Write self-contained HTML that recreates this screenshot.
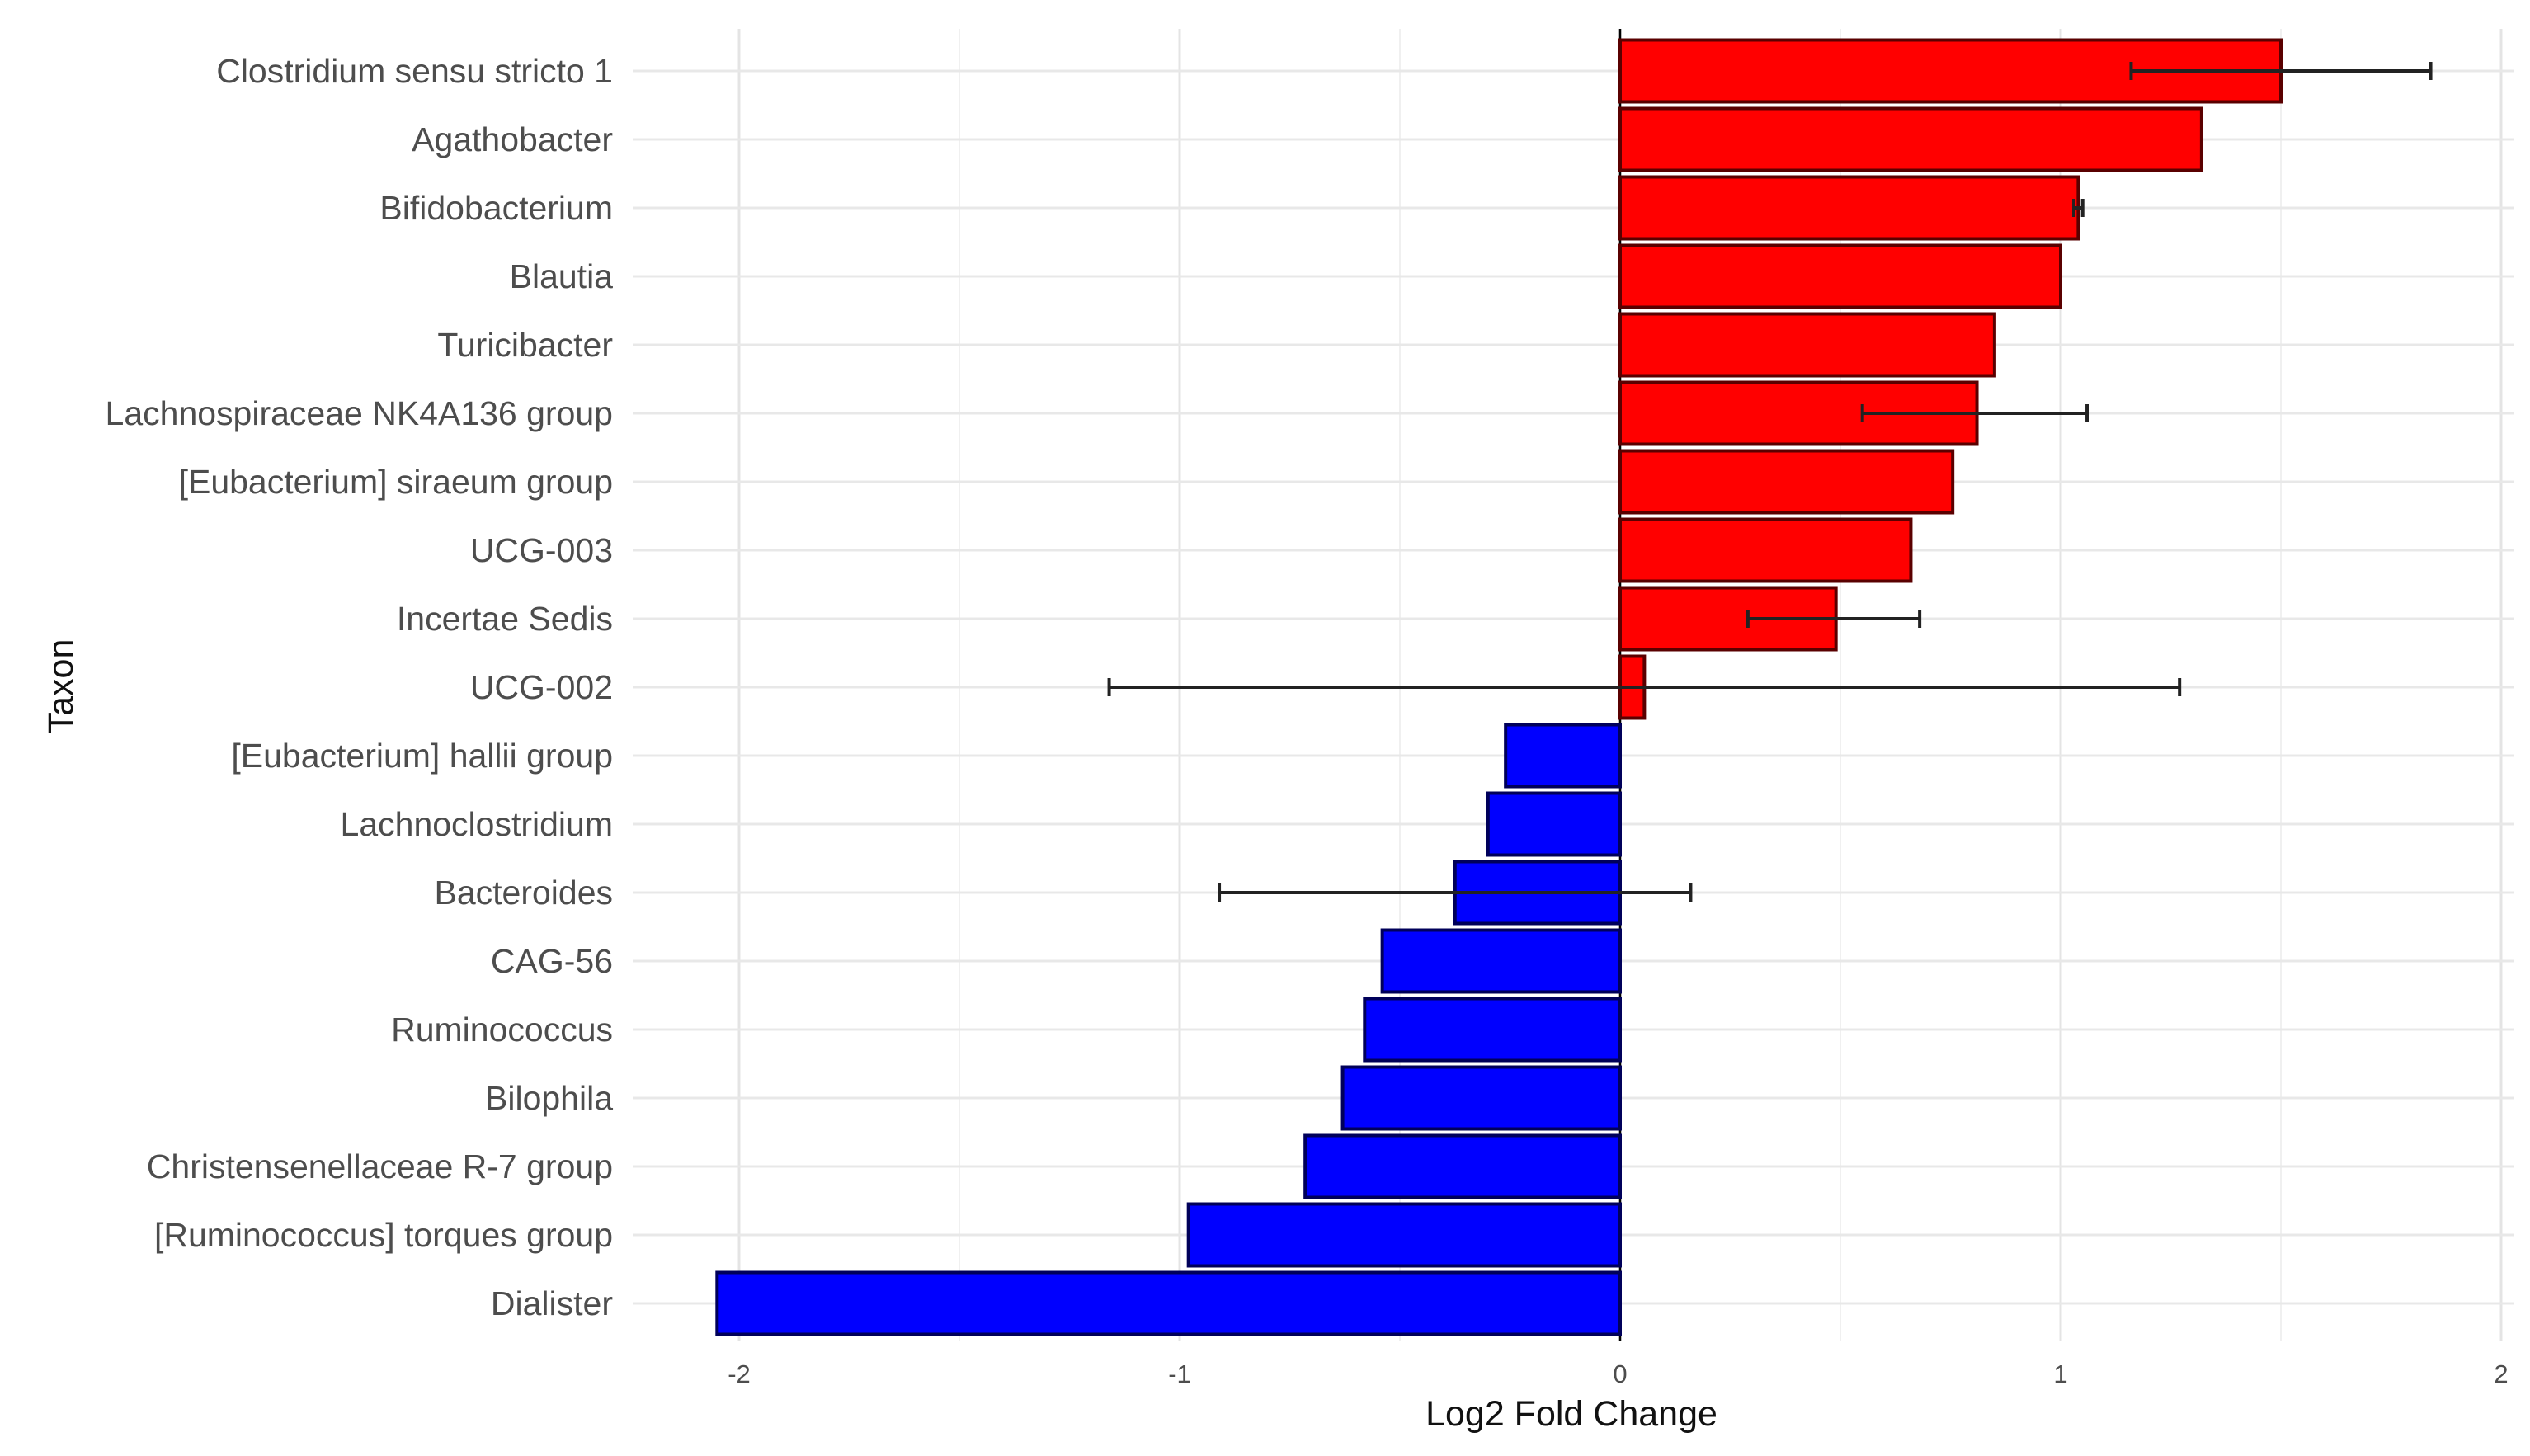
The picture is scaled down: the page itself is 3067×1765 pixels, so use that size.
<!DOCTYPE html>
<html><head><meta charset="utf-8"><style>
html,body{margin:0;padding:0;background:#fff;}
svg{display:block;font-family:"Liberation Sans",sans-serif;}
</style></head><body>
<svg id="chart" width="3067" height="1765" viewBox="0 0 3067 1765" xmlns="http://www.w3.org/2000/svg"></svg>
<script>
const taxa=["Clostridium sensu stricto 1","Agathobacter","Bifidobacterium","Blautia","Turicibacter","Lachnospiraceae NK4A136 group","[Eubacterium] siraeum group","UCG-003","Incertae Sedis","UCG-002","[Eubacterium] hallii group","Lachnoclostridium","Bacteroides","CAG-56","Ruminococcus","Bilophila","Christensenellaceae R-7 group","[Ruminococcus] torques group","Dialister"];
const values=[1.50,1.32,1.04,1.00,0.85,0.81,0.755,0.66,0.49,0.055,-0.26,-0.30,-0.375,-0.54,-0.58,-0.63,-0.715,-0.98,-2.05];
const errLow=[1.16,null,1.03,null,null,0.55,null,null,0.29,-1.16,null,null,-0.91,null,null,null,null,null,null];
const errHigh=[1.84,null,1.05,null,null,1.06,null,null,0.68,1.27,null,null,0.16,null,null,null,null,null,null];
const xTicks=[-2,-1,0,1,2];
const xTickLabels=["-2","-1","0","1","2"];

const NS="http://www.w3.org/2000/svg";
const svg=document.getElementById('chart');
const X0=1964, UNIT=534, ROW0=86, PITCH=83.0, BARH=75;
const PL=767, PR=3047, PT=35, PB=1625;
const xs=v=>X0+v*UNIT;
const ys=i=>ROW0+i*PITCH;
function mk(tag,attrs){const e=document.createElementNS(NS,tag);for(const k in attrs)e.setAttribute(k,attrs[k]);svg.appendChild(e);return e;}

for(let v=-2.5;v<=2.5;v+=1){const x=xs(v);if(x<PL||x>PR)continue;
 const g=mk('line',{x1:x,x2:x,y1:PT,y2:PB,stroke:'#f0f0f0','stroke-width':2});
 
 }
xTicks.forEach(v=>{const x=xs(v);
 const g=mk('line',{x1:x,x2:x,y1:PT,y2:PB,stroke:'#e4e4e4','stroke-width':3});
 
 });
taxa.forEach((t,i)=>{const y=ys(i);
 const g=mk('line',{x1:PL,x2:PR,y1:y,y2:y,stroke:'#e8e8e8','stroke-width':3});
 
 });
const zl=mk('line',{x1:X0,x2:X0,y1:PT,y2:PB,stroke:'#000','stroke-width':2.5});



taxa.forEach((t,i)=>{const v=values[i];const x1=xs(Math.min(0,v)),x2=xs(Math.max(0,v));
 const r=mk('rect',{x:x1,y:ys(i)-BARH/2,width:x2-x1,height:BARH,fill:v>=0?'#ff0000':'#0000ff',stroke:v>=0?'#5a0000':'#00005a','stroke-width':4});
 
 });
taxa.forEach((t,i)=>{if(errLow[i]===null)return;const y=ys(i),a=xs(errLow[i]),b=xs(errHigh[i]);
 const g=document.createElementNS(NS,'g');svg.appendChild(g);
 
 
 [[a,y,b,y],[a,y-11,a,y+11],[b,y-11,b,y+11]].forEach(c=>{const l=document.createElementNS(NS,'line');
  l.setAttribute('x1',c[0]);l.setAttribute('y1',c[1]);l.setAttribute('x2',c[2]);l.setAttribute('y2',c[3]);
  l.setAttribute('stroke','#222');l.setAttribute('stroke-width',4);g.appendChild(l);});});
taxa.forEach((t,i)=>{const e=mk('text',{x:743,y:ys(i)+14,'text-anchor':'end','font-size':41,fill:'#4d4d4d'});e.textContent=t;
 
 });
xTicks.forEach((v,i)=>{const e=mk('text',{x:xs(v),y:1676,'text-anchor':'middle','font-size':31,fill:'#4d4d4d'});e.textContent=xTickLabels[i];
 
 });
const xt=mk('text',{x:1905,y:1728,'text-anchor':'middle','font-size':43,fill:'#111'});xt.textContent='Log2 Fold Change';


const yt=mk('text',{x:88,y:832,'text-anchor':'middle','font-size':43,fill:'#111',transform:'rotate(-90 88 832)'});yt.textContent='Taxon';


</script>
</body></html>
